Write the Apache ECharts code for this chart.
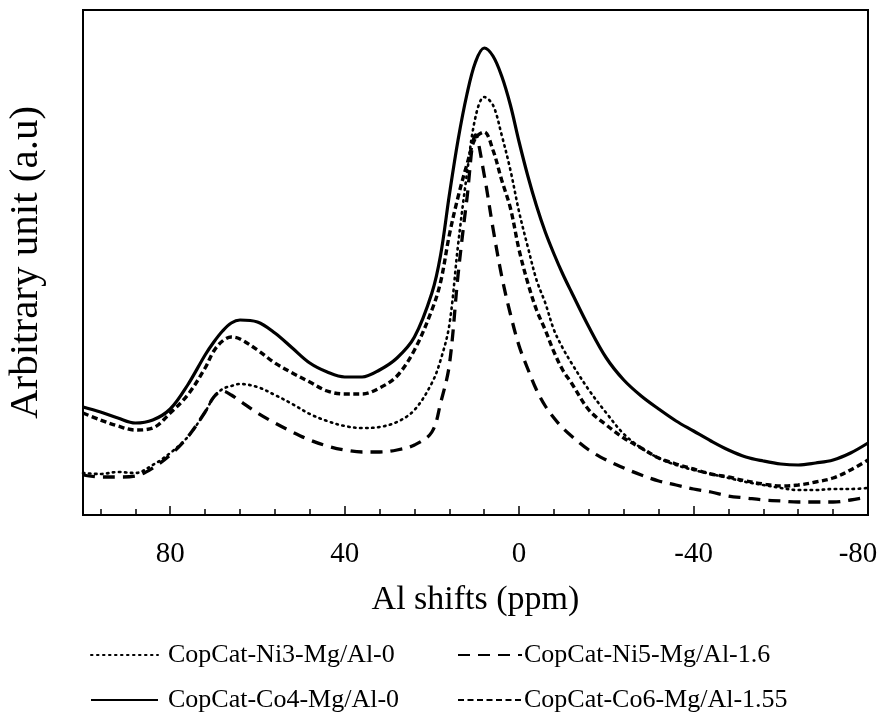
<!DOCTYPE html>
<html>
<head>
<meta charset="utf-8">
<script src="https://cdn.jsdelivr.net/npm/echarts@6/dist/echarts.min.js"></script>
<style>html,body{margin:0;padding:0;background:#fff}#c{width:895px;height:719px}</style>
</head>
<body>
<div id="c"></div>
<script>
// Chemical shift (ppm), shared by all series
var shifts = [100,96,92,88,84,80,76,72,70,68,66,64,60,56,52,48,44,40,36,32,28,24,20,18,16,14,12,10,8,6,4,2,0,-2,-4,-6,-8,-10,-12,-16,-20,-24,-28,-32,-36,-40,-44,-48,-52,-56,-60,-64,-68,-72,-76,-80];

var seriesNames = ['CopCat-Ni3-Mg/Al-0','CopCat-Ni5-Mg/Al-1.6','CopCat-Co4-Mg/Al-0','CopCat-Co6-Mg/Al-1.55'];

var ni3 = [42,41,43,42,50,62,78,103,118,126,129,131,128,120,111,101,94,89,87,88,93,105,132,155,190,270,340,398,418,410,380,345,303,268,235,212,185,167,152,125,102,81,67,57,50,45,41,37,33,30,27,25,25,26,26,27];
var ni5 = [40,38,38,39,47,60,78,103,118,124,120,114,102,92,83,75,69,65,63,63,65,70,83,112,150,240,315,380,340,287,239,201,169,146,125,109,97,87,79,65,55,47,40,34,30,26,23,19,17,15,14,13,13,13,15,18];
var co4 = [108,103,97,92,95,106,130,160,173,184,192,195,193,182,167,152,143,138,138,145,157,178,222,260,320,375,420,453,467,459,439,410,373,339,309,283,261,241,223,188,157,135,119,106,94,84,74,65,58,54,51,50,52,55,62,72];
var co6 = [102,95,89,85,87,102,120,147,164,174,178,176,165,152,142,133,124,121,121,127,139,165,205,233,280,318,350,377,383,365,335,307,265,232,205,185,163,145,132,105,90,77,67,57,51,46,41,38,34,31,29,30,33,37,45,55];

var xMajorTicks = [-80,-40,0,40,80];

function pairs(vals){ return shifts.map(function(s,i){ return [s, vals[i]]; }); }

var FONT = 'Liberation Serif';
var chart = echarts.init(document.getElementById('c'), null, {renderer:'canvas'});

var styles = [
  {width:2.6, type:[1.5,4.5], cap:'round'},
  {width:3.3, type:[12,8], cap:'butt'},
  {width:3.2, type:'solid', cap:'butt'},
  {width:3.4, type:[6,3.5], cap:'butt'}
];
var datas = [ni3, ni5, co4, co6];

var legends = [
  {name: seriesNames[0], left:90, top:642, w:67, pad:5},
  {name: seriesNames[1], left:457, top:642, w:64, pad:-3},
  {name: seriesNames[2], left:90, top:687, w:67, pad:5},
  {name: seriesNames[3], left:457, top:687, w:64, pad:-3}
].map(function(l){
  return {
    data:[l.name], left:l.left, top:l.top, padding:0,
    itemWidth:l.w, itemHeight:10, itemGap:0,
    itemStyle:{opacity:0},
    textStyle:{fontFamily:FONT, fontSize:26, color:'#000', padding:[0,0,0,l.pad]}
  };
});

chart.setOption({
  animation:false,
  backgroundColor:'#fff',
  legend: legends,
  grid:{left:83, right:27, top:10, bottom:204, outerBoundsMode:'none', containLabel:false,
        show:true, borderColor:'#000', borderWidth:2, backgroundColor:'transparent'},
  xAxis:[{
    type:'value', min:-80, max:100, interval:40, inverse:true,
    name:'Al shifts (ppm)', nameLocation:'middle', nameGap:68,
    nameTextStyle:{fontFamily:FONT, fontSize:34, color:'#000'},
    axisLine:{show:true, onZero:false, lineStyle:{color:'#000', width:2}},
    axisTick:{show:true, inside:true, length:9, lineStyle:{color:'#000', width:1.5}},
    splitLine:{show:false},
    axisLabel:{fontFamily:FONT, fontSize:29, color:'#000', margin:25,
      rich:{r:{fontFamily:FONT, fontSize:29, color:'#000', padding:[0,20,0,0]}},
      formatter:function(v){
        if (xMajorTicks.indexOf(v) < 0) return '';
        return v === -80 ? '{r|' + v + '}' : String(v);
      }}
  },{
    type:'value', min:-80, max:100, interval:8, inverse:true, position:'bottom',
    axisLine:{show:false, onZero:false},
    axisTick:{show:true, inside:true, length:6, lineStyle:{color:'#000', width:1.5}},
    axisLabel:{show:false}, splitLine:{show:false}
  }],
  yAxis:{
    type:'value', min:0, max:505,
    name:'Arbitrary unit (a.u)', nameLocation:'middle', nameGap:36,
    nameTextStyle:{fontFamily:FONT, fontSize:41, color:'#000'},
    axisLine:{show:true, onZero:false, lineStyle:{color:'#000', width:2}},
    axisTick:{show:false}, axisLabel:{show:false}, splitLine:{show:false}
  },
  series: seriesNames.map(function(n,i){
    return {
      name:n, type:'line', xAxisIndex:0, data:pairs(datas[i]),
      symbol:'none', smooth:0.35,
      lineStyle:{color:'#000', width:styles[i].width, type:styles[i].type, cap:styles[i].cap},
      itemStyle:{color:'#000'}
    };
  })
});
</script>
</body>
</html>
